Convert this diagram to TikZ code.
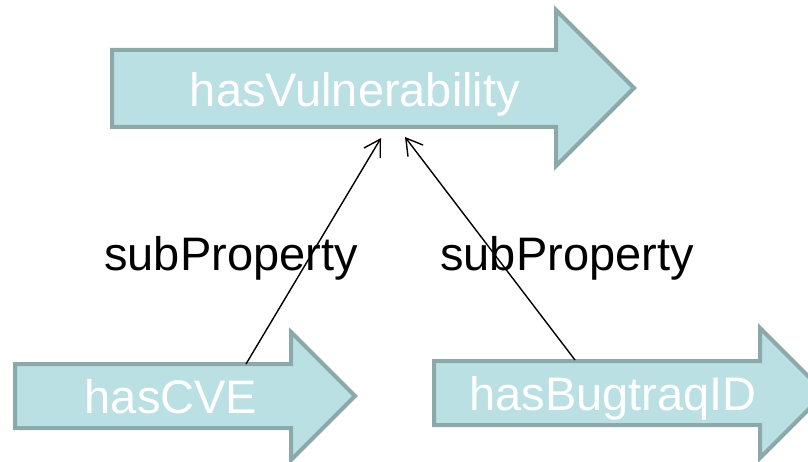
\documentclass[tikz,border=0pt]{standalone}
\usepackage{fontspec}
\setmainfont{Liberation Sans}
\usetikzlibrary{arrows.meta}
\definecolor{propfill}{HTML}{BBE0E3}
\definecolor{propedge}{HTML}{8CA9A9}
\begin{document}
\begin{tikzpicture}[x=1pt,y=-1pt,
  propshape/.style={fill=propfill,draw=propedge,line width=4pt,line join=miter},
  proplabel/.style={text=white,font=\fontsize{47}{56}\selectfont,anchor=base,inner sep=0pt},
  sublabel/.style={text=black,font=\fontsize{47}{56}\selectfont,anchor=base,inner sep=0pt},
  subof/.style={line width=1.4pt,-{Straight Barb[length=16pt,width=19pt,line width=1.4pt]}}]
\useasboundingbox (0,0) rectangle (808,462);
\clip (0,0) rectangle (808,462);

% property arrows
\draw[propshape] (112,50) -- (556,50) -- (556,10) -- (634,88) -- (556,166)
  -- (556,127) -- (112,127) -- cycle;
\node[proplabel] (vuln) at (355,107) {hasVulnerability};

\draw[propshape] (15,364) -- (291,364) -- (291,332) -- (355,396) -- (291,460)
  -- (291,428) -- (15,428) -- cycle;
\node[proplabel] (cve) at (171,413) {hasCVE};

\draw[propshape] (434,361) -- (760,361) -- (760,328) -- (825,393) -- (760,458)
  -- (760,425) -- (434,425) -- cycle;
\node[proplabel] (bugtraq) at (613,410) {hasBugtraqID};

% attachment points of the subproperty links
\coordinate (cveTop) at (246,364);
\coordinate (bugTop) at (575,360);
\coordinate (vulnA) at (381,138);
\coordinate (vulnB) at (405,137);

\draw[subof] (cveTop) -- (vulnA);
\draw[subof] (bugTop) -- (vulnB);

\node[sublabel] (subA) at (231,270) {subProperty};
\node[sublabel] (subB) at (567,270) {subProperty};
\end{tikzpicture}
\end{document}
